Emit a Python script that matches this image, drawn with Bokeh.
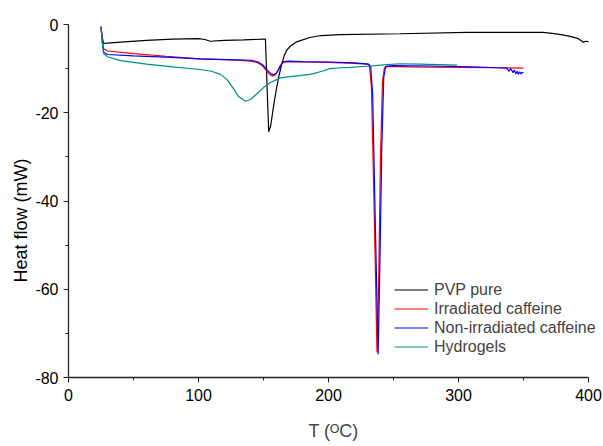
import math
from bokeh.plotting import figure
from bokeh.models import Legend, LegendItem, Title, Range1d, FixedTicker
from bokeh.embed import file_html
from bokeh.resources import INLINE

# ---- data ----
pvp_x = [25, 26, 27, 30, 40, 60, 80, 100, 105, 109, 120, 135, 150, 151.5, 152.5, 154,
         155.5, 158, 160, 162, 164, 166, 168, 171, 175, 179, 185, 194, 209, 255, 307,
         365, 372, 379, 386, 392, 396, 398, 400]
pvp_y = [-0.5, -3.0, -4.3, -4.2, -4.0, -3.6, -3.3, -3.2, -3.4, -3.8, -3.6, -3.5, -3.3, -3.3, -12, -24.3,
         -23, -18, -14.5, -11.5, -9.0, -7.0, -5.8, -4.8, -4.0, -3.6, -3.0, -2.5, -2.3, -2.1, -1.8,
         -1.8, -2.0, -2.3, -2.7, -3.2, -4.0, -3.8, -3.9]

irr_x = [25, 26, 27, 30, 50, 75, 101, 130, 140, 145, 149, 152, 155, 157, 159, 161, 163, 165, 168,
         180, 200, 220, 230, 231.5, 233, 235, 237.3, 238.5, 240, 241.5, 243, 246, 260, 300, 330, 350]
irr_y = [-0.5, -3.5, -5.5, -6.0, -6.6, -7.2, -7.8, -8.1, -8.3, -8.6, -9.3, -10.4, -11.4, -11.7, -11.4,
         -10.5, -9.3, -8.6, -8.4, -8.5, -8.6, -8.8, -9.0, -9.4, -14, -40, -74.3, -60, -30, -13, -9.8,
         -9.5, -9.6, -9.7, -9.8, -9.9]

non_x = [25, 26, 27, 30, 50, 75, 101, 130, 140, 146, 150, 153, 156, 158, 160, 162, 164, 166, 169,
         180, 200, 220, 231, 232.5, 234, 236, 238.2, 239.5, 241, 242.5, 244, 250, 280, 310, 330,
         337, 339, 340, 341, 342, 343, 344, 345, 346, 347, 348, 349, 350]
non_y = [-0.5, -4.0, -6.3, -6.8, -7.1, -7.4, -7.8, -8.0, -8.1, -8.5, -9.3, -10.4, -11.2, -11.4, -11.0,
         -10.0, -8.9, -8.4, -8.3, -8.4, -8.5, -8.7, -9.0, -9.6, -16, -45, -74.7, -55, -28, -12, -9.5,
         -9.3, -9.4, -9.6, -9.8, -9.9, -10.6, -10.0, -10.4, -10.9, -10.3, -11.2, -10.6, -11.3, -10.7,
         -11.2, -10.8, -11.0]

hyd_x = [25, 26, 27, 30, 40, 60, 80, 101, 110, 117, 122, 127, 131, 136, 140, 145, 150, 155, 163,
         170, 178, 188, 195, 201, 210, 217, 232, 245, 255, 270, 285, 299]
hyd_y = [-0.5, -4.0, -6.6, -7.3, -8.2, -9.0, -9.6, -10.2, -10.6, -11.3, -12.5, -14.6, -16.4, -17.4,
         -17.0, -15.7, -14.3, -13.2, -12.1, -11.8, -11.6, -11.2, -10.6, -10.0, -9.8, -9.7, -9.4,
         -9.1, -8.9, -9.0, -9.1, -9.2]

series_names = ["PVP pure", "Irradiated caffeine", "Non-irradiated caffeine", "Hydrogels"]
series_colors = ["#000000", "#FF0000", "#0000FF", "#008B8B"]
x_ticks = [0, 100, 200, 300, 400]
x_minor = [50, 150, 250, 350]
y_ticks = [-80, -60, -40, -20, 0]
y_minor = [-70, -50, -30, -10]

FONT = "Liberation Sans"

p = figure(width=603, height=446, x_range=Range1d(0, 407.7), y_range=Range1d(-80, 0),
           output_backend="svg", toolbar_location=None,
           min_border_left=68, min_border_right=5, min_border_top=24, min_border_bottom=69)
p.outline_line_color = None
p.grid.visible = False
p.background_fill_color = "white"
p.border_fill_color = "white"

renderers = []
for xs, ys, c in zip([pvp_x, irr_x, non_x, hyd_x], [pvp_y, irr_y, non_y, hyd_y], series_colors):
    r = p.line(xs, ys, line_color=c, line_width=1.2)
    renderers.append(r)

for ax in (p.xaxis[0], p.yaxis[0]):
    ax.axis_line_width = 1.3
    ax.axis_line_color = "#222222"
    ax.major_tick_line_color = "#222222"
    ax.minor_tick_line_color = "#222222"
    ax.major_tick_out = 5
    ax.major_tick_in = 0
    ax.minor_tick_out = 3
    ax.minor_tick_in = 0
    ax.major_label_text_font = FONT
    ax.major_label_text_font_size = "16px"
    ax.major_label_text_color = "#000000"

p.xaxis[0].ticker = FixedTicker(ticks=x_ticks, minor_ticks=x_minor)
p.yaxis[0].ticker = FixedTicker(ticks=y_ticks, minor_ticks=y_minor)
p.xaxis[0].bounds = (0, 400)
p.yaxis[0].major_label_overrides = {t: str(t) for t in y_ticks}
p.xaxis[0].major_label_standoff = 6
p.yaxis[0].major_label_standoff = 5

p.xaxis[0].axis_label = "T (\u1d3cC)"
p.xaxis[0].axis_label_text_font = FONT
p.xaxis[0].axis_label_text_font_size = "18px"
p.xaxis[0].axis_label_text_font_style = "normal"
p.xaxis[0].axis_label_standoff = 17

ytitle = Title(text="Heat flow (mW)", align="left", offset=95,
               text_font=FONT, text_font_size="18px", text_font_style="normal",
               text_color="#000000", standoff=4)
p.add_layout(ytitle, "left")

items = [LegendItem(label=n, renderers=[r]) for n, r in zip(series_names, renderers)]
legend = Legend(items=items, location=(326, 21), padding=0, margin=0, spacing=0,
                glyph_width=34, glyph_height=19, label_height=19, label_standoff=6,
                label_text_font=FONT, label_text_font_size="16px",
                border_line_color=None, background_fill_alpha=0)
p.add_layout(legend)

open("out.html", "w").write(file_html(p, INLINE))
